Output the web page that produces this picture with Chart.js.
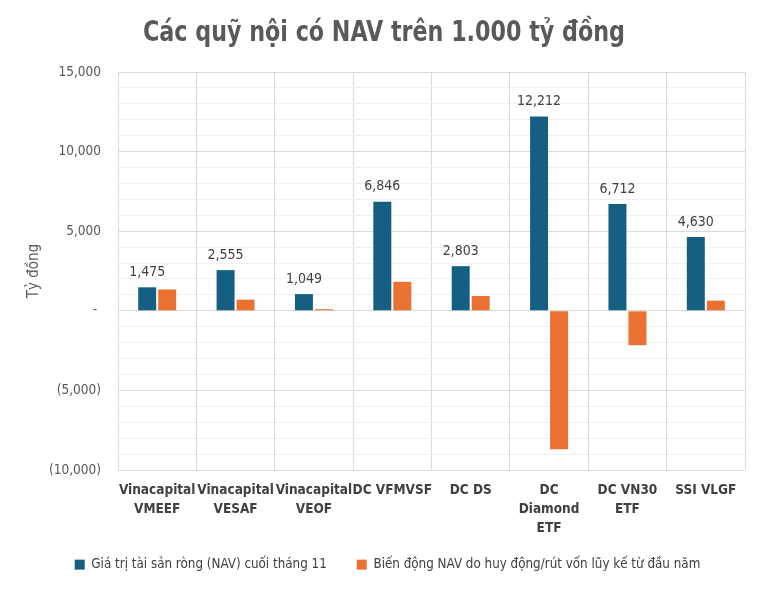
<!DOCTYPE html>
<html><head><meta charset="utf-8">
<script src="https://cdn.jsdelivr.net/npm/chart.js@4.4.0/dist/chart.umd.min.js"></script>
<style>html,body{margin:0;padding:0;background:#fff}#wrap{width:768px;height:589px}</style>
</head><body><div id="wrap"><canvas id="c" width="768" height="589"></canvas></div>
<script>
const categories = [["Vinacapital","VMEEF"],["Vinacapital","VESAF"],["Vinacapital","VEOF"],["DC VFMVSF"],["DC DS"],["DC","Diamond","ETF"],["DC VN30","ETF"],["SSI VLGF"]];
const navValues = [1475, 2555, 1049, 6846, 2803, 12212, 6712, 4630];
const flowValues = [1340, 700, 100, 1820, 930, -8700, -2160, 640];
const seriesNames = ["Giá trị tài sản ròng (NAV) cuối tháng 11", "Biến động NAV do huy động/rút vốn lũy kế từ đầu năm"];
const chartTitle = "Các quỹ nội có NAV trên 1.000 tỷ đồng";
const yTitle = "Tỷ đồng";

const FONT = "'Liberation Sans Narrow','DejaVu Sans Condensed','Liberation Sans',sans-serif";
function fmt(v){
  if (v === 0) return "- ";
  const s = Math.abs(v).toLocaleString('en-US');
  return v < 0 ? "(" + s + ")" : s;
}
const labelPlugin = {
  id: 'barLabels',
  beforeLayout(chart){
    const lg = chart.legend;
    if (lg && !lg._patched){
      const orig = lg.fit.bind(lg);
      lg.fit = function(){ orig(); this.height = 61; };
      lg._patched = true;
    }
  },
  afterLayout(chart){
    const lg = chart.legend;
    if (lg){ lg.left += 15; lg.right += 15; }
  },
  afterDraw(chart){
    const ctx = chart.ctx;
    ctx.save();
    ctx.font = "bold 28px " + FONT;
    ctx.fillStyle = "#595959";
    ctx.textAlign = "center";
    ctx.textBaseline = "middle";
    const w = ctx.measureText(chartTitle).width;
    ctx.translate(chart.width / 2, 34);
    ctx.scale(482 / w, 1);
    ctx.fillText(chartTitle, 0, 0);
    ctx.restore();
  },
  afterDatasetsDraw(chart){
    const ctx = chart.ctx;
    const meta = chart.getDatasetMeta(0);
    ctx.save();
    ctx.font = "14px " + FONT;
    ctx.fillStyle = "#404040";
    ctx.textAlign = "center";
    ctx.textBaseline = "bottom";
    meta.data.forEach((bar, i) => {
      ctx.fillText(fmt(navValues[i]), bar.x, bar.y - 8);
    });
    ctx.restore();
  }
};
new Chart(document.getElementById('c'), {
  type: 'bar',
  data: {
    labels: categories,
    datasets: [
      {label: seriesNames[0], data: navValues, backgroundColor: '#156082', categoryPercentage: 0.51, barPercentage: 0.9},
      {label: seriesNames[1], data: flowValues, backgroundColor: '#E97132', categoryPercentage: 0.51, barPercentage: 0.9}
    ]
  },
  options: {
    responsive: false,
    animation: false,
    layout: {padding: {left: 0, right: 23, top: 72, bottom: 0}},
    plugins: {
      title: {display: false},
      legend: {position: 'bottom', labels: {boxWidth: 10, boxHeight: 10, color: '#404040', font: {family: FONT, size: 13.3}, padding: 30}},
      tooltip: {enabled: false}
    },
    scales: {
      x: {
        afterFit(s){ s.height = 58; s._computeLabelArea = () => undefined; },
        grid: {offset: true, color: '#d9d9d9', drawTicks: false},
        border: {display: false},
        ticks: {color: '#404040', font: {family: FONT, size: 13.5, weight: 'bold', lineHeight: 1.4}, maxRotation: 0, autoSkip: false, padding: 11}
      },
      y: {
        min: -10000, max: 15000,
        afterFit(s){ s.width = 118; },
        grid: {color: ctx => (ctx.tick && ctx.tick.value % 5000 === 0) ? '#d9d9d9' : '#f0f0f0', drawTicks: false},
        border: {display: false},
        title: {display: true, text: yTitle, color: '#595959', font: {family: FONT, size: 15}, padding: {top: 25, bottom: 0}},
        ticks: {stepSize: 1000, autoSkip: false, color: '#595959', font: {family: FONT, size: 13.5}, padding: 17,
          callback: v => (v % 5000 === 0) ? fmt(v) : ''}
      }
    }
  },
  plugins: [labelPlugin]
});
</script></body></html>
